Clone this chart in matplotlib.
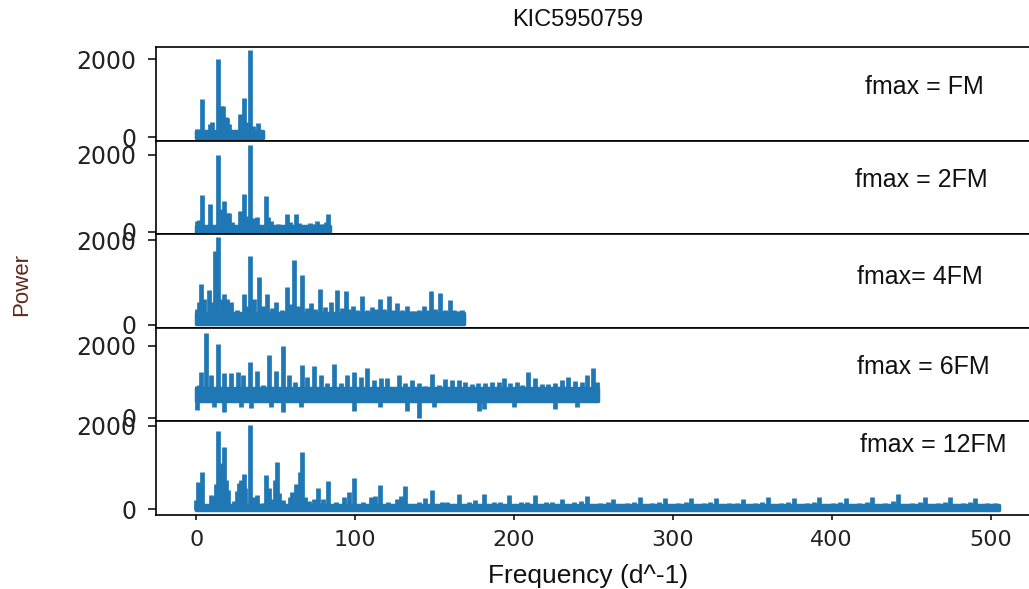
import matplotlib
matplotlib.use("Agg")
import matplotlib.pyplot as plt

# ---------------- data ----------------
title = "KIC5950759"
panel_labels = ["fmax = FM", "fmax = 2FM", "fmax= 4FM", "fmax = 6FM", "fmax = 12FM"]
freq_end = [42.1, 84.2, 168.4, 252.6, 505.2]          # last frequency of each spectrum
band_lo = [-10, -10, 30, 460, -10]                      # noise floor, lower edge
band_hi = [150, 150, 290, 830, 100]                     # noise floor, upper edge

# panel 1: fmax = FM
p1_freq = [0.3, 1.5, 3.6, 8.8, 10.0, 14.0, 15.5, 16.7, 18.5, 19.5, 20.5, 27.8, 29.9, 31.5, 34.1, 36.0, 38.7, 41.0]
p1_power = [200, 150, 990, 350, 400, 2000, 800, 810, 510, 490, 350, 590, 1000, 400, 2235, 300, 370, 150]

# panel 2: fmax = 2FM
p2_freq = [0.5, 2.0, 3.6, 9.0, 14.0, 16.0, 17.8, 19.5, 20.9, 22.5, 27.8, 29.9, 31.5, 34.1, 36.0, 38.3,
           43.9, 45.5, 47.0, 51.6, 57.5, 59.0, 62.7, 64.5, 66.9, 71.7, 74.0, 76.3, 79.5, 81.5, 83.0]
p2_power = [280, 300, 950, 720, 1990, 600, 790, 500, 480, 250, 530, 970, 400, 2250, 350, 373,
            925, 380, 270, 213, 460, 250, 460, 220, 170, 230, 200, 285, 213, 250, 460]

# panel 3: fmax = 4FM
p3_freq = [0.5, 1.5, 3.1, 5.0, 8.4, 10.0, 12.1, 14.0, 16.0, 17.8, 19.5, 22.0, 25.5, 29.9, 32.0, 34.1,
           36.5, 39.7, 42.0, 44.5, 47.5, 50.2, 54.0, 57.1, 59.5, 61.7, 64.0, 66.9, 69.5, 72.1, 75.0,
           78.0, 81.0, 84.7, 88.9, 91.5, 94.1, 96.5, 98.9, 101.5, 104.6, 107.5, 110.8, 113.0, 115.6,
           118.5, 121.3, 124.0, 126.5, 129.5, 132.4, 135.0, 138.0, 140.5, 143.2, 145.5, 148.1, 150.5,
           153.7, 156.5, 159.5, 162.5, 165.2, 167.5]
p3_power = [380, 540, 970, 600, 830, 550, 1750, 2075, 600, 725, 620, 545, 350, 725, 450, 1620,
            600, 1130, 450, 725, 400, 545, 350, 885, 500, 1520, 450, 1180, 400, 505, 380,
            845, 420, 550, 820, 400, 795, 380, 440, 360, 683, 350, 415, 380, 620,
            380, 675, 360, 510, 350, 455, 330, 335, 340, 455, 360, 795, 380,
            740, 360, 595, 350, 335, 360]

# panel 4: fmax = 6FM
p4_freq = [0.5, 1.5, 3.1, 5.9, 9.4, 13.6, 17.4, 22.0, 26.1, 29.3, 34.1, 38.3, 41.8, 46.0, 50.2, 54.4,
           58.6, 62.1, 66.9, 70.0, 74.2, 78.4, 82.6, 86.8, 91.0, 95.2, 99.3, 103.5, 107.7, 111.9,
           116.1, 120.3, 124.4, 127.6, 131.7, 135.9, 140.1, 144.3, 148.5, 152.6, 156.8, 161.0,
           165.2, 169.4, 173.6, 177.7, 181.9, 186.1, 190.3, 193.5, 197.6, 201.8, 205.0, 209.1,
           213.3, 217.5, 221.7, 225.8, 230.0, 234.2, 238.4, 242.6, 245.7, 249.9, 252.0]
p4_power = [880, 900, 1280, 2345, 1190, 2040, 1230, 1230, 1280, 1190, 1540, 1300, 910, 1725, 1300, 1975,
            1190, 1000, 1465, 1140, 1420, 1190, 955, 1480, 955, 1190, 1260, 1140, 1370, 1050,
            1090, 1110, 860, 1190, 955, 1050, 955, 890, 1205, 910, 1075, 1050,
            1050, 1000, 925, 955, 955, 980, 1000, 1110, 955, 1000, 910, 1280,
            1110, 925, 925, 955, 1050, 1140, 1020, 1000, 1190, 1370, 1000]
p4_dip_freq = [0.5, 11.0, 17.7, 28.0, 34.7, 47.0, 54.4, 66.0, 99.3, 116.0, 132.8, 140.1, 150.0,
               178.0, 181.0, 200.0, 225.8, 240.0]
p4_dip_power = [213, 300, 167, 300, 265, 300, 167, 300, 185, 300, 185, 0, 300,
                185, 240, 300, 240, 300]

# panel 5: fmax = 12FM
p5_freq = [0.2, 1.0, 3.6, 9.4, 11.0, 12.5, 13.6, 15.5, 16.5, 17.8, 19.0, 20.3, 24.0, 26.0, 27.2,
           28.5, 29.9, 31.0, 34.1, 36.0, 38.3, 42.0, 43.9, 46.0, 48.0, 49.5, 50.6, 52.0, 54.4,
           59.0, 60.6, 62.7, 64.0, 65.5, 66.9, 68.5, 71.1, 74.0, 76.7, 80.0, 83.0, 88.0, 93.0,
           96.5, 99.3, 105.0, 109.8, 112.5, 115.6, 121.0, 126.5, 129.0, 131.7, 140.5, 144.3, 148.5,
           154.5, 157.9, 165.2, 171.5, 175.7, 180.9, 187.5, 191.3, 196.6, 204.5, 208.1, 213.3,
           220.5, 223.8, 230.0, 238.0, 242.0, 245.7, 254.0, 258.9, 262.4, 271.0, 275.6, 279.1,
           287.0, 291.3, 294.8, 303.0, 308.1, 311.6, 319.4, 323.7, 327.2, 335.5, 340.4, 343.9,
           351.7, 356.1, 359.6, 368.0, 372.8, 376.3, 384.2, 388.6, 392.1, 400.5, 405.3, 408.8,
           417.1, 422.0, 425.5, 433.6, 438.3, 441.8, 450.4, 455.5, 459.0, 466.8, 471.2, 474.7,
           482.5, 486.9, 490.4, 498.0, 503.0]
p5_power = [225, 660, 900, 345, 330, 600, 1870, 900, 1100, 1490, 700, 460, 200, 450, 635,
            700, 840, 500, 2025, 300, 345, 150, 820, 500, 250, 700, 1135, 400, 225,
            300, 420, 605, 300, 900, 1370, 300, 210, 250, 500, 250, 680, 180, 290,
            420, 740, 180, 290, 320, 580, 170, 240, 330, 555, 170, 265, 460,
            170, 185, 370, 170, 225, 370, 170, 185, 345, 170, 185, 345,
            170, 185, 240, 170, 200, 320, 150, 170, 240, 150, 180, 290,
            150, 170, 265, 150, 170, 265, 150, 170, 265, 150, 160, 240,
            150, 180, 290, 150, 170, 265, 150, 180, 290, 150, 170, 265,
            150, 180, 290, 150, 200, 367, 150, 180, 290, 150, 180, 290,
            150, 170, 265, 150, 150]

x_ticks = [0, 100, 200, 300, 400, 500]
y_ticks = [0, 2000]
y_limits = [(-85, 2310), (-60, 2365), (-71, 2141), (-106, 2494), (-135, 2107)]
x_limits = (-25.26, 530.46)

peak_freqs = [p1_freq, p2_freq, p3_freq, p4_freq, p5_freq]
peak_powers = [p1_power, p2_power, p3_power, p4_power, p5_power]

# ---------------- drawing ----------------
W, H = 1029, 589
fig = plt.figure(figsize=(W / 100, H / 100), dpi=100)
line_color = "#1f77b4"

ax_left, ax_right = 156 / W, 1039 / W
ax_top, ax_bottom = 1 - 47 / H, 1 - 515 / H
panel_h = (ax_top - ax_bottom) / 5

axes = []
for i in range(5):
    b = ax_top - (i + 1) * panel_h
    ax = fig.add_axes([ax_left, b, ax_right - ax_left, panel_h])
    axes.append(ax)

for i, ax in enumerate(axes):
    ax.fill_between([0, freq_end[i]], band_lo[i], band_hi[i], color=line_color,
                    lw=2.5, edgecolor=line_color)
    ax.vlines(peak_freqs[i], band_lo[i], peak_powers[i], color=line_color, lw=3.4,
              capstyle="butt")
    if i == 3:
        ax.vlines(p4_dip_freq, p4_dip_power, band_hi[i], color=line_color, lw=3.4,
                  capstyle="butt")
    ax.set_xlim(*x_limits)
    ax.set_ylim(*y_limits[i])
    ax.set_yticks(y_ticks)
    ax.set_xticks(x_ticks)
    for s in ax.spines.values():
        s.set_linewidth(1.2)
    ax.tick_params(axis="y", length=6, width=1.1, pad=8, labelsize=17)
    ax.tick_params(axis="x", length=3.5, width=1.1, pad=7, labelsize=16)
    for lab in ax.get_yticklabels() + ax.get_xticklabels():
        lab.set_fontfamily("DejaVu Sans")
        lab.set_color("#222222")
    if i < 4:
        ax.tick_params(axis="x", labelbottom=False, bottom=False)

ann_pos = [(924, 87), (921, 180), (920, 277), (923, 367), (933, 445)]
for (px, py), lab in zip(ann_pos, panel_labels):
    fig.text(px / W, 1 - py / H, lab, ha="center", va="center", fontsize=18,
             family="Liberation Sans", color="#111111")

fig.text(578 / W, 1 - 20 / H, title, ha="center", va="center", fontsize=17,
         family="Liberation Sans", color="#111111")
fig.text(588 / W, 1 - 576 / H, "Frequency (d^-1)", ha="center", va="center", fontsize=19,
         family="Liberation Sans", color="#111111")
fig.text(22 / W, 1 - 285 / H, "Power", ha="center", va="center", rotation=90, fontsize=16,
         family="Liberation Sans", color="#5c2a1e")

fig.savefig("out.png", dpi=100)
